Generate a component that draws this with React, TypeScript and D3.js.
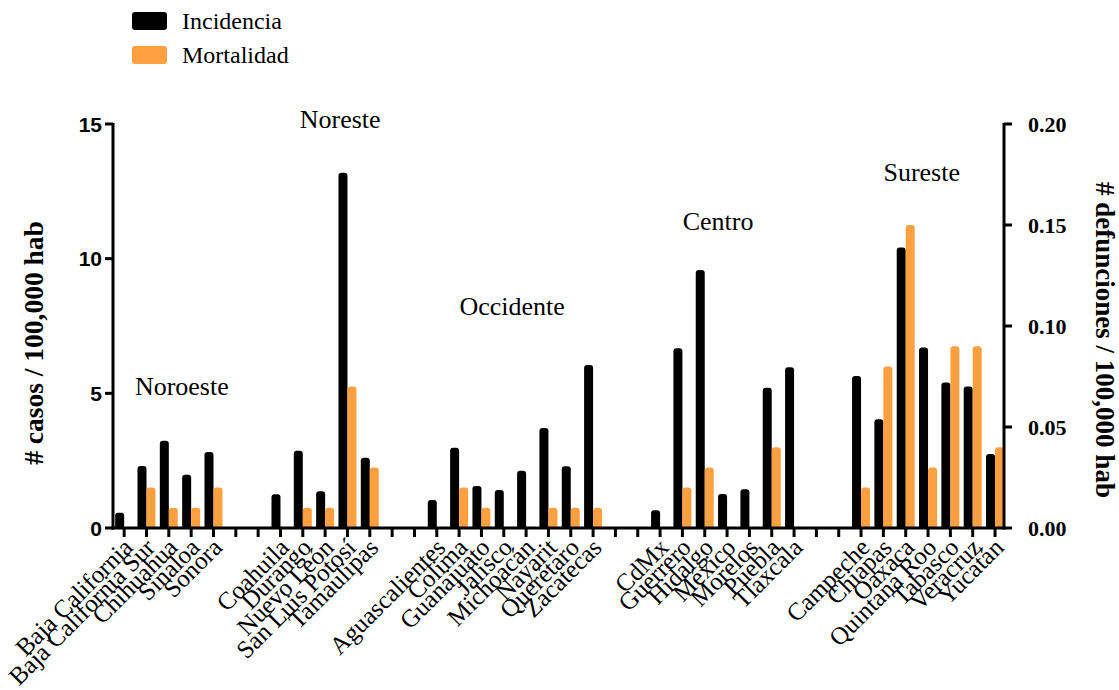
import React from "react";
import * as d3 from "d3";

const categories: string[] = [
  "Baja California", "Baja California Sur", "Chihuahua", "Sinaloa", "Sonora", "gap1", "gap2",
  "Coahuila", "Durango", "Nuevo León", "San Luis Potosí", "Tamaulipas", "gap3", "gap4",
  "Aguascalientes", "Colima", "Guanajuato", "Jalisco", "Michoacán", "Nayarit", "Querétaro", "Zacatecas", "gap5", "gap6",
  "CdMx", "Guerrero", "Hidalgo", "México", "Morelos", "Puebla", "Tlaxcala", "gap7", "gap8",
  "Campeche", "Chiapas", "Oaxaca", "Quintana Roo", "Tabasco", "Veracruz", "Yucatán",
];

const incidencia: (number | null)[] = [
  0.57, 2.3, 3.24, 1.98, 2.82, null, null,
  1.25, 2.87, 1.36, 13.19, 2.61, null, null,
  1.04, 2.98, 1.56, 1.41, 2.13, 3.71, 2.29, 6.05, null, null,
  0.66, 6.67, 9.58, 1.26, 1.44, 5.21, 5.97, null, null,
  5.64, 4.04, 10.41, 6.7, 5.4, 5.25, 2.75,
];

const mortalidad: (number | null)[] = [
  0, 0.02, 0.01, 0.01, 0.02, null, null,
  0, 0.01, 0.01, 0.07, 0.03, null, null,
  0, 0.02, 0.01, 0, 0, 0.01, 0.01, 0.01, null, null,
  0, 0.02, 0.03, 0, 0, 0.04, 0, null, null,
  0.02, 0.08, 0.15, 0.03, 0.09, 0.09, 0.04,
];

const leftTicks = [0, 5, 10, 15];
const rightTicks = [0, 0.05, 0.1, 0.15, 0.2];
const rightTickLabels = ["0.00", "0.05", "0.10", "0.15", "0.20"];

const regions = [
  { name: "Noroeste", anchor: "Chihuahua", dx: 13, y: 4.94 },
  { name: "Noreste", anchor: "Nuevo León", dx: 15, y: 14.85 },
  { name: "Occidente", anchor: "Michoacán", dx: -14, y: 7.9 },
  { name: "Centro", anchor: "México", dx: -9, y: 11.07 },
  { name: "Sureste", anchor: "Oaxaca", dx: 16, y: 12.9 },
];

const legendItems = [
  { label: "Incidencia", color: "#000000" },
  { label: "Mortalidad", color: "#FFA040" },
];

const BLACK = "#000000";
const ORANGE = "#FFA040";

function topRoundedBar(x: number, y: number, w: number, h: number, r: number): string {
  if (h <= 0) return "";
  const rr = Math.min(r, w / 2, h);
  return `M${x},${y + h} L${x},${y + rr} Q${x},${y} ${x + rr},${y} L${x + w - rr},${y} Q${x + w},${y} ${x + w},${y + rr} L${x + w},${y + h} Z`;
}

export default function App() {
  const width = 1119;
  const height = 690;
  const left = 113;
  const right = 1004;
  const top = 124;
  const bottom = 528;

  const x = d3.scaleBand<string>().domain(categories).range([left, left + 40 * 22.33]).padding(0);
  const yL = d3.scaleLinear().domain([0, 15]).range([bottom, top]);
  const yR = d3.scaleLinear().domain([0, 0.2]).range([bottom, top]);
  const bw = 9;
  const serif = "'Liberation Serif', 'Times New Roman', serif";
  const sans = "'Liberation Sans', Arial, sans-serif";

  const tickX = (c: string) => (x(c) as number) + x.bandwidth() / 2;

  return (
    <svg width={width} height={height} style={{ position: "absolute", left: 0, top: 0, background: "#fff" }}>
      <rect x={0} y={0} width={width} height={height} fill="#fff" />
      {/* legend */}
      {legendItems.map((d, i) => (
        <g key={d.label} transform={`translate(132, ${12 + i * 34})`}>
          <rect x={0} y={0} width={35} height={18} rx={3} fill={d.color} />
          <text x={50} y={17} fontFamily={serif} fontSize={24} fill="#000">{d.label}</text>
        </g>
      ))}

      {/* bars */}
      {categories.map((c, i) => {
        const t = tickX(c);
        const inc = incidencia[i];
        const mor = mortalidad[i];
        return (
          <g key={c}>
            {inc != null && inc > 0 && (
              <path d={topRoundedBar(t - bw, yL(inc), bw, bottom - yL(inc), 3)} fill={BLACK} />
            )}
            {mor != null && mor > 0 && (
              <path d={topRoundedBar(t, yR(mor), bw, bottom - yR(mor), 3)} fill={ORANGE} />
            )}
          </g>
        );
      })}

      {/* left axis */}
      <line x1={left} x2={left} y1={top - 1} y2={bottom + 1.5} stroke="#000" strokeWidth={3} />
      {leftTicks.map((v) => (
        <g key={v}>
          <line x1={left - 8} x2={left} y1={yL(v)} y2={yL(v)} stroke="#000" strokeWidth={3} />
          <text x={left - 11} y={yL(v)} dy="0.36em" textAnchor="end" fontFamily={sans} fontWeight="bold" fontSize={21}>{v}</text>
        </g>
      ))}
      <text transform={`translate(43, 343) rotate(-90)`} textAnchor="middle" fontFamily={serif} fontWeight="bold" fontSize={27.5}># casos / 100,000 hab</text>

      {/* right axis */}
      <line x1={right} x2={right} y1={top - 1} y2={bottom + 1.5} stroke="#000" strokeWidth={3} />
      {rightTicks.map((v, i) => (
        <g key={v}>
          <line x1={right} x2={right + 8} y1={yR(v)} y2={yR(v)} stroke="#000" strokeWidth={3} />
          <text x={right + 24} y={yR(v)} dy="0.36em" textAnchor="start" fontFamily={serif} fontWeight="bold" fontSize={22}>{rightTickLabels[i]}</text>
        </g>
      ))}
      <text transform={`translate(1096, 340) rotate(90)`} textAnchor="middle" fontFamily={serif} fontWeight="bold" fontSize={27}># defunciones / 100,000 hab</text>

      {/* x axis */}
      <line x1={left - 1.5} x2={right} y1={bottom} y2={bottom} stroke="#000" strokeWidth={3} />
      {categories.map((c) => {
        const t = tickX(c);
        const label = c.startsWith("gap") ? "" : c;
        return (
          <g key={"t" + c}>
            <line x1={t} x2={t} y1={bottom} y2={bottom + 9} stroke="#000" strokeWidth={3} />
            {label && (
              <text transform={`translate(${t + 10}, ${bottom + 21}) rotate(-45)`} textAnchor="end" fontFamily={serif} fontSize={25} fill="#000">{label}</text>
            )}
          </g>
        );
      })}

      {/* region labels */}
      {regions.map((r) => (
        <text key={r.name} x={tickX(r.anchor) + r.dx} y={yL(r.y)} textAnchor="middle" fontFamily={serif} fontSize={26} fill="#000">{r.name}</text>
      ))}
    </svg>
  );
}
